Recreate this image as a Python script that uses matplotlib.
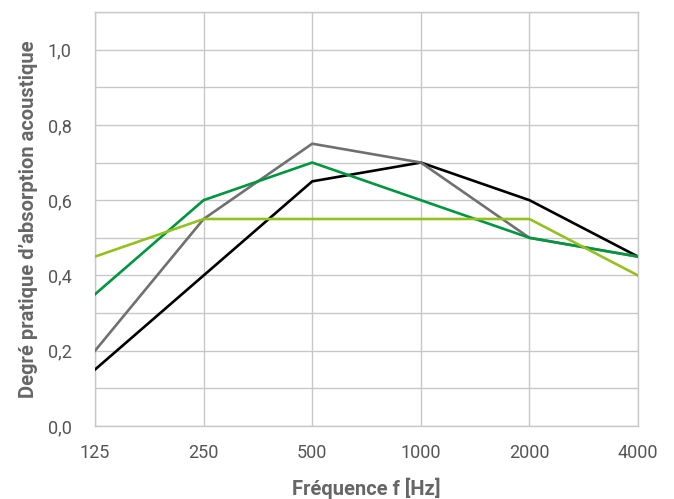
import matplotlib.pyplot as plt

freqs = ["125", "250", "500", "1000", "2000", "4000"]
black_vals = [0.15, 0.40, 0.65, 0.70, 0.60, 0.45]
gray_vals = [0.20, 0.55, 0.75, 0.70, 0.50, 0.45]
green_vals = [0.35, 0.60, 0.70, 0.60, 0.50, 0.45]
lime_vals = [0.45, 0.55, 0.55, 0.55, 0.55, 0.40]
yticks = [0.0, 0.2, 0.4, 0.6, 0.8, 1.0]
ytick_labels = ["0,0", "0,2", "0,4", "0,6", "0,8", "1,0"]


def main():
    plt.rcParams['font.family'] = ['Roboto', 'DejaVu Sans']
    fig = plt.figure(figsize=(6.74, 4.99), dpi=100)
    ax = fig.add_axes([0.141, 0.1463, 0.8056, 0.8297])

    x = list(range(len(freqs)))
    ax.plot(x, black_vals, color='#000000', linewidth=1.9, zorder=3)
    ax.plot(x, gray_vals, color='#707070', linewidth=1.9, zorder=3)
    ax.plot(x, green_vals, color='#00963f', linewidth=1.9, zorder=3)
    ax.plot(x, lime_vals, color='#94c11f', linewidth=1.9, zorder=3)

    ax.set_xlim(0, len(freqs) - 1)
    ax.set_ylim(0, 1.1)
    ax.set_xticks(x)
    ax.set_xticklabels(freqs)
    ax.set_yticks(yticks)
    ax.set_yticklabels(ytick_labels)
    ax.set_yticks([i / 10 for i in range(1, 12, 2)], minor=True)

    ax.grid(True, which='both', color='#c8c8c8', linewidth=1.0, zorder=0)
    ax.tick_params(axis='both', which='both', length=0, labelsize=13,
                   labelcolor='#555555')
    ax.tick_params(axis='y', pad=17)
    ax.tick_params(axis='x', pad=13)
    for s in ax.spines.values():
        s.set_color('#c8c8c8')
        s.set_linewidth(1.0)

    ax.set_xlabel('Fréquence f [Hz]', fontsize=14.5, fontweight='bold',
                  color='#666666', labelpad=11)
    ax.set_ylabel('Degré pratique d\u2019absorption acoustique', fontsize=14.5,
                  fontweight='bold', color='#666666', labelpad=7)

    fig.savefig('out.png', dpi=100)


if __name__ == "__main__":
    main()
